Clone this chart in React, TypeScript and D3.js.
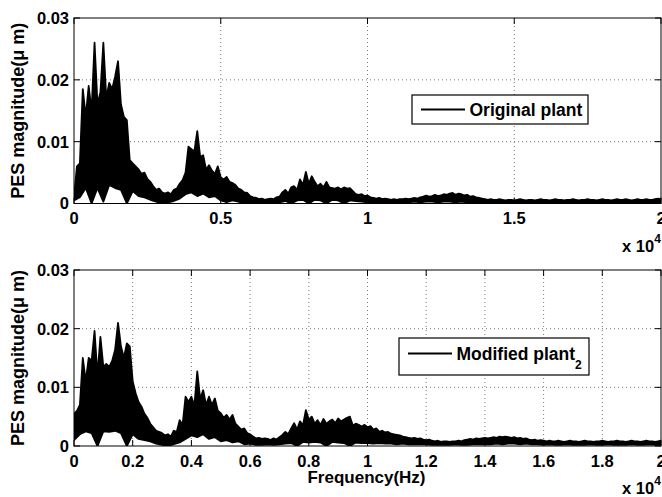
import { useEffect, useRef } from "react";
import * as d3 from "d3";

// PES magnitude spectra, values in 1e-3 um.
// upper outline sampled every 100 Hz, lower outline every 200 Hz (0 .. 20000 Hz)
const upperStep = 100;
const lowerStep = 200;

const originalUpper = [
  1, 6, 6.5, 18.5, 14, 19, 15, 26, 16, 18,
  26, 17, 19.5, 18.5, 20.5, 23, 16, 14, 13.5, 7,
  6.5, 6, 5.5, 4.8, 5, 4, 3.5, 2.8, 2.2, 2.4,
  1.8, 1.6, 1.8, 1.5, 2.2, 2.4, 3.2, 3.8, 5, 9.2,
  8.8, 8.4, 11.7, 7.5, 7.8, 5.5, 6.2, 5.3, 4.8, 6,
  4.2, 3.9, 4.3, 3.5, 3.3, 3, 2.4, 2.2, 1.8, 1.7,
  1.2, 1, 0.9, 0.7, 0.8, 0.6, 0.7, 0.8, 0.7, 1,
  1.1, 1.8, 2.2, 1.6, 2.6, 2.8, 2.2, 3.9, 3, 5.1,
  3.2, 4.4, 3.5, 2.8, 3.2, 2.6, 3.5, 2.6, 2.5, 2.4,
  2.6, 2.3, 2.6, 2.4, 2.5, 2, 1.5, 1.4, 1.5, 1.2,
  1.3, 1, 0.9, 0.8, 0.9, 0.7, 0.8, 0.7, 0.6, 0.7,
  0.6, 0.7, 0.7, 0.8, 0.7, 0.8, 0.9, 0.8, 1, 1.1,
  1.3, 1.1, 1.2, 1.4, 1.2, 1.3, 1.5, 1.4, 1.6, 1.7,
  1.4, 1.6, 1.5, 1.3, 1.4, 1.1, 1.2, 1, 0.9, 0.8,
  0.7, 0.6, 0.7, 0.6, 0.6, 0.7, 0.6, 0.5, 0.6, 0.6,
  0.5, 0.6, 0.7, 0.6, 0.5, 0.6, 0.6, 0.5, 0.6, 0.7,
  0.6, 0.6, 0.5, 0.6, 0.7, 0.6, 0.6, 0.5, 0.6, 0.6,
  0.7, 0.6, 0.5, 0.6, 0.6, 0.7, 0.6, 0.6, 0.5, 0.6,
  0.7, 0.6, 0.6, 0.5, 0.6, 0.7, 0.6, 0.6, 0.7, 0.6,
  0.5, 0.6, 0.7, 0.6, 0.6, 0.7, 0.6, 0.6, 0.7, 0.8,
  0.7,
];

const originalLower = [
  0.5, 1, 2.5, 0, 2.5, 0.3, 3, 2.5, 2.2, 0,
  2, 1.2, 1, 0.6, 0.3, 0, 0.2, 0.4, 0.8, 1.5,
  1.8, 1.2, 1.6, 1, 1.2, 0.5, 0.2, 0.5, 0.3, 0,
  0.2, 0.1, 0.1, 0.2, 0.1, 0.2, 0.4, 0, 0.5, 0.6,
  0, 0.6, 0.5, 0, 0.6, 0.5, 0, 0.5, 0.4, 0.3,
  0.2, 0.2, 0.1, 0.2, 0.2, 0.1, 0.2, 0.2, 0.3, 0.2,
  0.3, 0.3, 0.2, 0.3, 0.3, 0.2, 0.3, 0.2, 0.2, 0.1,
  0.2, 0.1, 0.2, 0.1, 0.1, 0.2, 0.1, 0.2, 0.1, 0.1,
  0.2, 0.1, 0.2, 0.1, 0.2, 0.1, 0.1, 0.2, 0.1, 0.2,
  0.1, 0.2, 0.1, 0.1, 0.2, 0.1, 0.2, 0.1, 0.2, 0.1,
  0.2,
];

const modifiedUpper = [
  5.5, 6, 7, 15, 11, 15, 14.5, 19.6, 12, 18.6,
  13.5, 14, 13.5, 14.5, 16.4, 21, 17, 15, 17.5, 17,
  11, 9, 7.5, 6.7, 5.5, 4.8, 3.8, 3.2, 2.6, 2.4,
  2.2, 1.8, 2, 1.6, 2.6, 2.4, 4.4, 3.6, 8.4, 7.5,
  8.4, 6.8, 12.7, 8, 9.5, 7, 8.4, 7, 8.1, 6,
  5.6, 4.8, 5.3, 4.5, 5.3, 3.8, 3.3, 2.8, 3, 2.2,
  2, 1.6, 1.3, 1.4, 1.2, 1.3, 1.2, 1, 1.3, 1.1,
  1.5, 1.9, 2.4, 2, 3, 3.9, 2.8, 4.2, 3.5, 6.1,
  4.5, 5, 3.8, 4.4, 3.6, 4.6, 3.8, 4.2, 4.5, 3.9,
  4.7, 4.2, 4.5, 4.8, 5, 3.5, 3.8, 3.6, 3.3, 3.6,
  3.2, 3.4, 2.8, 3, 2.4, 2.6, 2.3, 2.4, 2.1, 2,
  1.9, 1.8, 1.6, 1.5, 1.4, 1.3, 1.4, 1.2, 1.3, 1.1,
  1, 1.1, 0.9, 0.8, 0.9, 0.7, 0.8, 0.8, 0.7, 0.8,
  0.8, 0.9, 0.8, 1, 1.1, 1.2, 1.1, 1.3, 1.2, 1.3,
  1.4, 1.3, 1.4, 1.5, 1.4, 1.6, 1.5, 1.6, 1.5, 1.4,
  1.5, 1.3, 1.4, 1.2, 1.3, 1.1, 1, 1.1, 0.9, 1,
  0.9, 0.8, 0.9, 0.8, 0.8, 0.9, 0.8, 0.7, 0.8, 0.9,
  0.8, 0.8, 0.7, 0.8, 0.9, 0.8, 0.8, 0.7, 0.8, 0.8,
  0.9, 0.8, 0.7, 0.8, 0.8, 0.9, 0.8, 0.8, 0.7, 0.8,
  0.9, 0.8, 0.8, 0.7, 0.8, 0.9, 0.8, 0.8, 0.7, 0.8,
  0.9,
];

const modifiedLower = [
  1, 2, 2.5, 2.2, 0, 2.5, 2.4, 2.6, 2.2, 0,
  2, 1.2, 1, 0.8, 0.4, 0.2, 0, 0.3, 0.6, 1.2,
  1.8, 1.5, 2, 1.2, 1.5, 0.8, 1, 0.6, 0.8, 0.3,
  0.4, 0.2, 0.2, 0.3, 0.2, 0.3, 0.4, 0.5, 0, 0.7,
  0.6, 0.7, 0.6, 0, 0.7, 0.6, 0.5, 0, 0.6, 0.5,
  0.5, 0.4, 0.5, 0.4, 0.4, 0.3, 0.4, 0.3, 0.3, 0.3,
  0.3, 0.2, 0.2, 0.2, 0.2, 0.3, 0.2, 0.2, 0.3, 0.3,
  0.3, 0.3, 0.4, 0.3, 0.4, 0.4, 0.3, 0.4, 0.3, 0.3,
  0.2, 0.3, 0.2, 0.2, 0.3, 0.2, 0.2, 0.2, 0.3, 0.2,
  0.2, 0.3, 0.2, 0.2, 0.2, 0.3, 0.2, 0.2, 0.3, 0.2,
  0.2,
];

const yTicks = [0, 0.01, 0.02, 0.03];
const xTicksTop = [0, 0.5, 1, 1.5, 2]; // x 10^4 Hz
const xTicksBottom = [0, 0.2, 0.4, 0.6, 0.8, 1, 1.2, 1.4, 1.6, 1.8, 2];

const FONT = "'Liberation Sans', Arial, Helvetica, sans-serif";
const W = 662,
  H = 497;

function drawPanel(svg, id, opts) {
  const { top, bottom, upper, lower, xTicks, legend, legendBox, xlabel } = opts;
  const left = 74,
    right = 661;

  const x = d3.scaleLinear().domain([0, 20000]).range([left, right]);
  const y = d3.scaleLinear().domain([0, 0.03]).range([bottom, top]);

  const g = svg.append("g");

  // grid
  g.selectAll(".vgrid")
    .data(xTicks.slice(1, -1))
    .join("line")
    .attr("x1", (d) => x(d * 1e4))
    .attr("x2", (d) => x(d * 1e4))
    .attr("y1", top)
    .attr("y2", bottom)
    .attr("stroke", "#555")
    .attr("stroke-width", 0.8)
    .attr("stroke-dasharray", "1,3");
  g.selectAll(".hgrid")
    .data(yTicks.slice(1, -1))
    .join("line")
    .attr("x1", left)
    .attr("x2", right)
    .attr("y1", (d) => y(d))
    .attr("y2", (d) => y(d))
    .attr("stroke", "#555")
    .attr("stroke-width", 0.8)
    .attr("stroke-dasharray", "1,3");

  // spectrum band: upper outline forward, lower outline back
  svg
    .append("clipPath")
    .attr("id", id)
    .append("rect")
    .attr("x", left)
    .attr("y", top)
    .attr("width", right - left)
    .attr("height", bottom - top);

  const pts = upper
    .map((v, i) => [i * upperStep, v / 1000])
    .concat(lower.map((v, i) => [i * lowerStep, v / 1000]).reverse());
  const band = d3
    .line()
    .x((d) => x(d[0]))
    .y((d) => y(d[1]));
  g.append("path")
    .attr("clip-path", `url(#${id})`)
    .attr("d", band(pts) + "Z")
    .attr("fill", "#000")
    .attr("stroke", "#000")
    .attr("stroke-width", 1.8)
    .attr("stroke-linejoin", "round");

  // tick marks (inside, all four sides)
  const tl = 6;
  xTicks.forEach((t) => {
    const xx = x(t * 1e4);
    g.append("line").attr("x1", xx).attr("x2", xx).attr("y1", bottom).attr("y2", bottom - tl).attr("stroke", "#000");
    g.append("line").attr("x1", xx).attr("x2", xx).attr("y1", top).attr("y2", top + tl).attr("stroke", "#000");
  });
  yTicks.forEach((t) => {
    const yy = y(t);
    g.append("line").attr("x1", left).attr("x2", left + tl).attr("y1", yy).attr("y2", yy).attr("stroke", "#000");
    g.append("line").attr("x1", right).attr("x2", right - tl).attr("y1", yy).attr("y2", yy).attr("stroke", "#000");
  });

  // box
  g.append("rect")
    .attr("x", left)
    .attr("y", top)
    .attr("width", right - left)
    .attr("height", bottom - top)
    .attr("fill", "none")
    .attr("stroke", "#000")
    .attr("stroke-width", 1);

  // tick labels
  g.selectAll(".ylab")
    .data(yTicks)
    .join("text")
    .attr("x", 69)
    .attr("y", (d) => y(d))
    .attr("dy", "0.36em")
    .attr("text-anchor", "end")
    .text((d) => (d === 0 ? "0" : d3.format(".2f")(d)));
  g.selectAll(".xlab")
    .data(xTicks)
    .join("text")
    .attr("x", (d) => x(d * 1e4))
    .attr("y", bottom + 20.5)
    .attr("text-anchor", "middle")
    .text((d) => String(d));

  // exponent
  const ex = g.append("text").attr("x", 622).attr("y", bottom + 48);
  ex.append("tspan").text("x 10");
  ex.append("tspan").attr("dy", -9).attr("font-size", 12).text("4");

  // y label
  g.append("text")
    .attr("transform", `translate(23.5, ${(top + bottom) / 2}) rotate(-90)`)
    .attr("text-anchor", "middle")
    .attr("font-size", 18)
    .text("PES magnitude(\u03bc m)");

  if (xlabel) {
    g.append("text")
      .attr("x", (left + right) / 2 - 1)
      .attr("y", bottom + 36.5)
      .attr("text-anchor", "middle")
      .attr("font-size", 17)
      .text(xlabel);
  }

  // legend
  const [bx, by, bw, bh] = legendBox;
  g.append("rect")
    .attr("x", bx)
    .attr("y", by)
    .attr("width", bw)
    .attr("height", bh)
    .attr("fill", "#fff")
    .attr("stroke", "#000")
    .attr("stroke-width", 1.2);
  const ly = by + (legend.sub ? 15.5 : bh / 2);
  g.append("line")
    .attr("x1", bx + 9)
    .attr("x2", bx + 9 + 44)
    .attr("y1", ly)
    .attr("y2", ly)
    .attr("stroke", "#000")
    .attr("stroke-width", 2);
  const lt = g
    .append("text")
    .attr("x", bx + 57.5)
    .attr("y", ly)
    .attr("dy", "0.36em")
    .attr("font-size", 17.5);
  lt.append("tspan").text(legend.label);
  if (legend.sub) {
    lt.append("tspan").attr("dy", 9).attr("font-size", 12).text(legend.sub);
  }
}

function App() {
  const ref = useRef(null);

  useEffect(() => {
    d3.select(ref.current).selectAll("*").remove();
    const svg = d3
      .select(ref.current)
      .attr("font-family", FONT)
      .attr("font-weight", "bold")
      .attr("font-size", 16.5);

    svg.append("rect").attr("width", W).attr("height", H).attr("fill", "#fff");

    drawPanel(svg, "clipTop", {
      top: 18,
      bottom: 203.5,
      upper: originalUpper,
      lower: originalLower,
      xTicks: xTicksTop,
      legend: { label: "Original plant" },
      legendBox: [412, 95, 176, 29],
    });

    drawPanel(svg, "clipBottom", {
      top: 270,
      bottom: 446,
      upper: modifiedUpper,
      lower: modifiedLower,
      xTicks: xTicksBottom,
      legend: { label: "Modified plant", sub: "2" },
      legendBox: [399, 338, 190, 37],
      xlabel: "Frequency(Hz)",
    });
  }, []);

  return (
    <svg
      ref={ref}
      width={W}
      height={H}
      style={{ position: "absolute", left: 0, top: 0 }}
    />
  );
}

export default App;
